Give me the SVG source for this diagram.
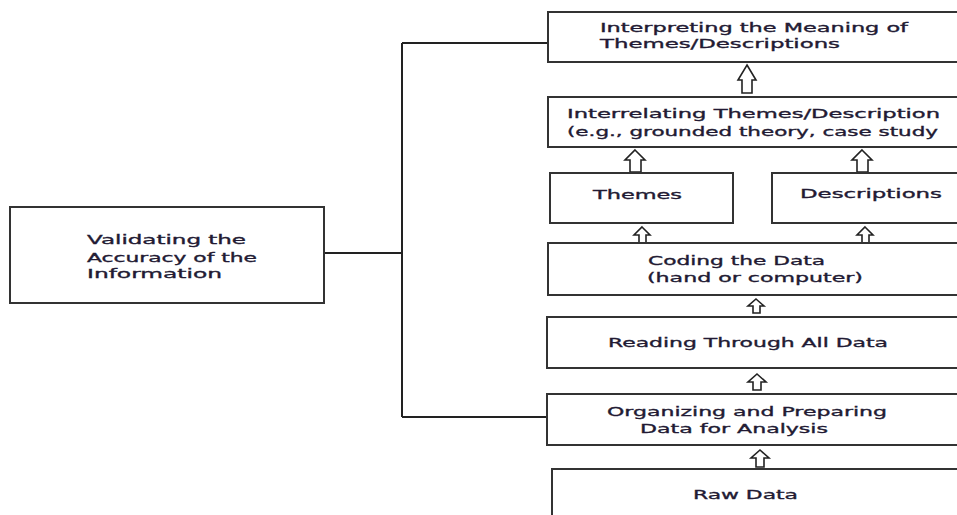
<svg xmlns="http://www.w3.org/2000/svg" width="957" height="515" viewBox="0 0 957 515">
  <style>
    .box { fill: #ffffff; stroke: #333333; stroke-width: 2; }
    .lbl { font-family: "DejaVu Sans", "Liberation Sans", sans-serif; font-size: 13px; fill: #221a33; stroke: #221a33; stroke-width: 0.35; }
    .conn { fill: none; stroke: #222222; stroke-width: 2; }
    .arr { fill: #ffffff; stroke: #222222; stroke-width: 1.6; stroke-linejoin: miter; }
  </style>
  <rect width="957" height="515" fill="#ffffff"/>

  <g id="connectors">
    <path class="conn" d="M324,253 H402 M402,43 V417 M402,43 H553 M402,417 H548"/>
    <path class="arr" d="M747,65 L756,80 L752,80 L752,93 L742,93 L742,80 L738,80 Z"/>
    <path class="arr" d="M635,150 L645,160 L641,160 L641,172 L630,172 L630,160 L625,160 Z"/>
    <path class="arr" d="M862,150 L872,160 L868,160 L868,172 L857,172 L857,160 L852,160 Z"/>
    <path class="arr" d="M642,227 L650,235 L646,235 L646,243 L639,243 L639,235 L634,235 Z"/>
    <path class="arr" d="M865,227 L873,235 L869,235 L869,243 L862,243 L862,235 L857,235 Z"/>
    <path class="arr" d="M756,299 L764,306 L760,306 L760,313 L753,313 L753,306 L748,306 Z"/>
    <path class="arr" d="M757,374 L766,382 L761,382 L761,390 L753,390 L753,382 L748,382 Z"/>
    <path class="arr" d="M760,450 L769,458 L764,458 L764,467 L756,467 L756,458 L751,458 Z"/>
  </g>

  <g id="validating">
    <rect class="box" x="10" y="207" width="314" height="96"/>
    <text class="lbl" x="87" y="244" textLength="159" lengthAdjust="spacingAndGlyphs">Validating the</text>
    <text class="lbl" x="87" y="262" textLength="170" lengthAdjust="spacingAndGlyphs">Accuracy of the</text>
    <text class="lbl" x="87" y="278" textLength="135" lengthAdjust="spacingAndGlyphs">Information</text>
  </g>

  <g id="interpreting">
    <rect class="box" x="548" y="12" width="430" height="50"/>
    <text class="lbl" x="600" y="32" textLength="308" lengthAdjust="spacingAndGlyphs">Interpreting the Meaning of</text>
    <text class="lbl" x="600" y="48" textLength="240" lengthAdjust="spacingAndGlyphs">Themes/Descriptions</text>
  </g>

  <g id="interrelating">
    <rect class="box" x="548" y="97" width="430" height="50"/>
    <text class="lbl" x="567" y="118" textLength="373" lengthAdjust="spacingAndGlyphs">Interrelating Themes/Description</text>
    <text class="lbl" x="567" y="136" textLength="371" lengthAdjust="spacingAndGlyphs">(e.g., grounded theory, case study</text>
  </g>

  <g id="themes">
    <rect class="box" x="550" y="173" width="183" height="50"/>
    <text class="lbl" x="593" y="199" textLength="89" lengthAdjust="spacingAndGlyphs">Themes</text>
  </g>

  <g id="descriptions">
    <rect class="box" x="772" y="173" width="206" height="50"/>
    <text class="lbl" x="800" y="198" textLength="142" lengthAdjust="spacingAndGlyphs">Descriptions</text>
  </g>

  <g id="coding">
    <rect class="box" x="548" y="243" width="430" height="52"/>
    <text class="lbl" x="648" y="265" textLength="177" lengthAdjust="spacingAndGlyphs">Coding the Data</text>
    <text class="lbl" x="647" y="282" textLength="216" lengthAdjust="spacingAndGlyphs">(hand or computer)</text>
  </g>

  <g id="reading">
    <rect class="box" x="547" y="317" width="430" height="51"/>
    <text class="lbl" x="608" y="347" textLength="280" lengthAdjust="spacingAndGlyphs">Reading Through All Data</text>
  </g>

  <g id="organizing">
    <rect class="box" x="547" y="394" width="430" height="51"/>
    <text class="lbl" x="607" y="416" textLength="280" lengthAdjust="spacingAndGlyphs">Organizing and Preparing</text>
    <text class="lbl" x="640" y="433" textLength="188" lengthAdjust="spacingAndGlyphs">Data for Analysis</text>
  </g>

  <g id="rawdata">
    <rect class="box" x="552" y="469" width="430" height="60"/>
    <text class="lbl" x="693" y="499" textLength="105" lengthAdjust="spacingAndGlyphs">Raw Data</text>
  </g>
</svg>
